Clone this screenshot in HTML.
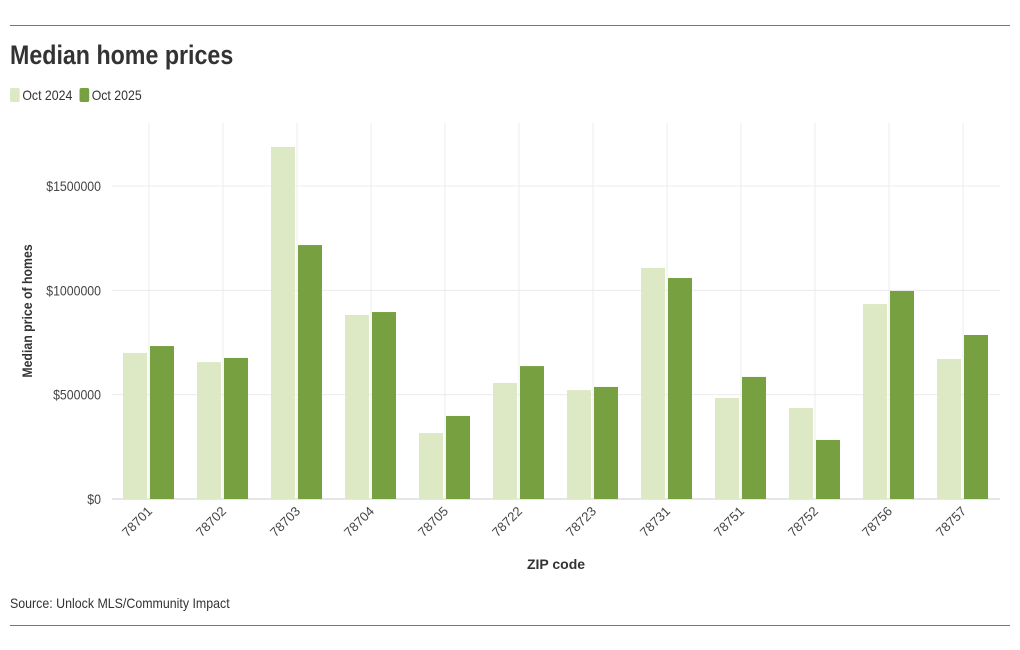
<!DOCTYPE html>
<html><head><meta charset="utf-8"><style>
body{margin:0;background:#fff;font-family:"Liberation Sans Narrow","Liberation Sans",sans-serif;color:#333;}
#wrap{position:relative;width:1020px;height:650px;}
.rule{position:absolute;left:10px;width:1000px;height:1px;background:#777;}
h1{position:absolute;left:10px;top:40px;margin:0;font-size:27px;font-weight:bold;color:#333;transform:scaleX(0.86);transform-origin:0 0;white-space:nowrap;}
.legend{position:absolute;left:10px;top:87px;display:flex;gap:8px;font-size:14px;transform:scaleX(0.88);transform-origin:0 0;white-space:nowrap;}
.leg{display:flex;align-items:center;}
.sw{width:11px;height:14px;border-radius:2px;margin-right:3px;display:inline-block;}
.src{position:absolute;left:10px;top:595px;font-size:14px;transform:scaleX(0.885);transform-origin:0 0;white-space:nowrap;}
</style></head><body>
<div id="wrap">
<div class="rule" style="top:25px"></div>
<h1>Median home prices</h1>
<div class="legend">
<div class="leg"><span class="sw" style="background:#dde8c5"></span>Oct 2024</div>
<div class="leg"><span class="sw" style="background:#77a040"></span>Oct 2025</div>
</div>
<svg id="chart" width="1020" height="650" style="position:absolute;left:0;top:0"></svg>
<div class="src">Source: Unlock MLS/Community Impact</div>
<div class="rule" style="top:625px"></div>
</div>
<script>
const categories=["78701","78702","78703","78704","78705","78722","78723","78731","78751","78752","78756","78757"];
const oct2024=[700000,656000,1687000,882000,316000,556000,522000,1107000,484000,436000,934000,671000];
const oct2025=[733000,676000,1217000,896000,398000,637000,537000,1059000,585000,283000,997000,786000];
const yTicks=[0,500000,1000000,1500000];
const yTickLabels=["$0","$500000","$1000000","$1500000"];
const svg=document.getElementById('chart');
const NS="http://www.w3.org/2000/svg";
const L=112,R=1000,T=123,B=499;
const y=v=>B-v*(B-186)/1500000;
const bw=(R-L)/categories.length;
const x=i=>L+bw*i;
function mk(t,a){const e=document.createElementNS(NS,t);for(const k in a)e.setAttribute(k,a[k]);svg.appendChild(e);return e;}
const ax=L-11;
yTicks.forEach((v,i)=>{
 const g=mk('line',{x1:L,x2:R,y1:y(v),y2:y(v),stroke:i==0?'#ccc':'#ececec','stroke-width':1});
 
 
 const t=mk('text',{x:ax,y:y(v)+5,'text-anchor':'end','font-size':14,fill:'#444',transform:`translate(${ax} 0) scale(0.88 1) translate(${-ax} 0)`});
 t.textContent=yTickLabels[i];
 
 
});
categories.forEach((c,i)=>{
 const cx=x(i)+bw/2;
 const g=mk('line',{x1:cx,x2:cx,y1:T,y2:B,stroke:'#ececec','stroke-width':1});
 
 
 const b1=mk('rect',{x:cx-26,y:y(oct2024[i]),width:24,height:B-y(oct2024[i]),fill:'#dde8c5'});
 
 
 const b2=mk('rect',{x:cx+1,y:y(oct2025[i]),width:24,height:B-y(oct2025[i]),fill:'#77a040'});
 
 
 const t=mk('text',{x:cx+4,y:512,'text-anchor':'end','font-size':13,fill:'#444',transform:`rotate(-45 ${cx+4} 512)`});
 t.textContent=c;
 
 
});
const xt=mk('text',{x:556,y:569,'text-anchor':'middle','font-size':14,'font-weight':'bold',fill:'#333'});
xt.textContent='ZIP code';


const yt=mk('text',{x:32,y:311,'text-anchor':'middle','font-size':14,'font-weight':'bold',fill:'#333'});
yt.setAttribute('transform','translate(32 311) rotate(-90) scale(0.88 1) translate(-32 -311)');
yt.textContent='Median price of homes';


</script>
</body></html>
